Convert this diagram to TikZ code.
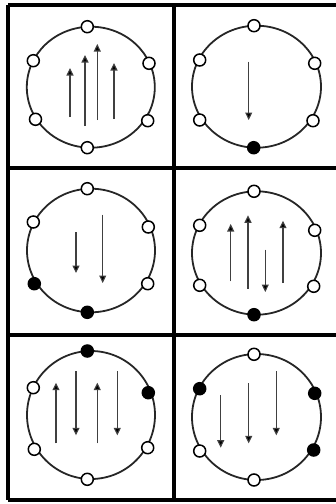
\documentclass[tikz,border=0pt]{standalone}
\usetikzlibrary{arrows.meta}
\begin{document}
\begin{tikzpicture}[x=1pt,y=-1pt,
  frame/.style={line width=3.2pt,black},
  ring/.style={line width=1.8pt,black!85},
  openpt/.style={circle,draw=black,line width=1.5pt,fill=white,minimum size=12pt,inner sep=0pt},
  fullpt/.style={circle,draw=black,line width=1.5pt,fill=black,minimum size=12pt,inner sep=0pt},
  arr/.style={line width=1.1pt,black!75,-{Triangle[length=7.5pt,width=7pt,fill=black]}}]
\useasboundingbox (0,0) rectangle (336,504);
% grid
\draw[frame] (8,5) -- (340,5);
\draw[frame] (8,168) -- (340,168);
\draw[frame] (8,335) -- (340,335);
\draw[frame] (8,500) -- (340,500);
\draw[frame] (8,5) -- (8,500);
\draw[frame] (174,5) -- (174,500);
% cell 1
\draw[ring] (90.8,87.2) ellipse [x radius=64, y radius=60.5];
\draw[arr] (70,117) -- (70,68);
\draw[arr] (85,126) -- (85,55);
\draw[arr] (97.3,120) -- (97.3,44);
\draw[arr] (114,119) -- (114,63);
\node[openpt] (a1) at (87.3,26.7) {};
\node[openpt] (a2) at (33.3,60.7) {};
\node[openpt] (a3) at (149,63.3) {};
\node[openpt] (a4) at (35.5,119.3) {};
\node[openpt] (a5) at (147.7,120.7) {};
\node[openpt] (a6) at (87.3,147.7) {};
% cell 2
\draw[ring] (256.5,86.7) ellipse [x radius=64.5, y radius=61];
\draw[arr] (248.7,61.7) -- (248.7,120);
\node[openpt] (b1) at (254,25.7) {};
\node[openpt] (b2) at (199.7,60) {};
\node[openpt] (b3) at (314.7,63.3) {};
\node[openpt] (b4) at (199.7,120) {};
\node[openpt] (b5) at (313,120.7) {};
\node[fullpt] (b6) at (253.7,147.7) {};
% cell 3
\draw[ring] (91,250.5) ellipse [x radius=64, y radius=61.8];
\draw[arr] (76,232) -- (76,273);
\draw[arr] (102.7,214.7) -- (102.7,283);
\node[openpt] (c1) at (87.3,188.7) {};
\node[openpt] (c2) at (33.3,222) {};
\node[openpt] (c3) at (148.3,227) {};
\node[fullpt] (c4) at (34.3,283.7) {};
\node[openpt] (c5) at (147.7,283.7) {};
\node[fullpt] (c6) at (87.3,312.3) {};
% cell 4
\draw[ring] (256.5,253) ellipse [x radius=64.5, y radius=61.7];
\draw[arr] (230.7,281.3) -- (230.7,224);
\draw[arr] (248,288.7) -- (248,215.3);
\draw[arr] (265.3,249.7) -- (265.3,292);
\draw[arr] (283,283) -- (283,220.7);
\node[openpt] (d1) at (254,191.3) {};
\node[openpt] (d2) at (199.7,225.3) {};
\node[openpt] (d3) at (314.7,230.3) {};
\node[openpt] (d4) at (199.7,285.3) {};
\node[openpt] (d5) at (313.7,286.3) {};
\node[fullpt] (d6) at (254,314.7) {};
% cell 5
\draw[ring] (91,415) ellipse [x radius=64, y radius=64];
\draw[arr] (56,443.3) -- (56,382.7);
\draw[arr] (76,371) -- (76,435.3);
\draw[arr] (97.3,443.3) -- (97.3,382.7);
\draw[arr] (117.3,371) -- (117.3,435.3);
\node[fullpt] (e1) at (87.3,351) {};
\node[openpt] (e2) at (33.3,387.7) {};
\node[fullpt] (e3) at (148.3,392.7) {};
\node[openpt] (e4) at (34.3,449.3) {};
\node[openpt] (e5) at (147.7,447.7) {};
\node[openpt] (e6) at (87.3,479.3) {};
% cell 6
\draw[ring] (256.5,417) ellipse [x radius=64.5, y radius=63];
\draw[arr] (220.7,395.3) -- (220.7,447.7);
\draw[arr] (248.7,383.3) -- (248.7,443.3);
\draw[arr] (276.3,371) -- (276.3,435.3);
\node[openpt] (f1) at (254,354.3) {};
\node[fullpt] (f2) at (199.7,388.7) {};
\node[fullpt] (f3) at (314.7,393.3) {};
\node[openpt] (f4) at (199.7,451) {};
\node[fullpt] (f5) at (313.7,450) {};
\node[openpt] (f6) at (254,480) {};
\end{tikzpicture}
\end{document}
